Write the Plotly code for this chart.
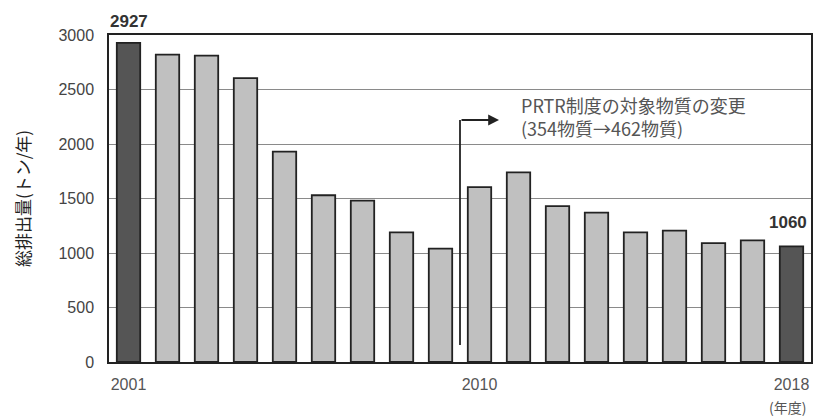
import plotly.graph_objects as go

years = list(range(2001, 2019))
emissions = [2927, 2820, 2810, 2605, 1930, 1530, 1480, 1190, 1040,
             1605, 1740, 1430, 1370, 1190, 1205, 1090, 1115, 1060]
highlight_years = [2001, 2018]
x_tick_vals = [2001, 2010, 2018]
x_tick_text = ["2001", "2010", "2018"]
y_tick_vals = [0, 500, 1000, 1500, 2000, 2500, 3000]

DARK = "#555555"
LIGHT = "#c0c0c0"
NUM_FONT = "Liberation Sans"
JP_FONT = "Noto Sans CJK JP"

colors = [DARK if y in highlight_years else LIGHT for y in years]

fig = go.Figure()
fig.add_trace(go.Bar(
    x=years, y=emissions,
    marker=dict(color=colors, line=dict(color="#222222", width=1.8)),
    width=0.6,
))

fig.update_layout(
    width=819, height=416,
    margin=dict(l=109, r=6, t=35, b=54),
    plot_bgcolor="white", paper_bgcolor="white",
    showlegend=False,
    font=dict(family=NUM_FONT, color="#444444", size=16),
)
fig.update_xaxes(
    range=[2000.5, 2018.5], tickvals=x_tick_vals, ticktext=x_tick_text,
    showgrid=False, showline=True, linecolor="#222222", linewidth=1.5,
    mirror=True, ticks="", ticklabelstandoff=7,
    tickfont=dict(family=NUM_FONT, size=16, color="#555555"),
)
fig.update_yaxes(
    range=[0, 3000], tickvals=y_tick_vals, showgrid=True,
    gridcolor="#8a8a8a", gridwidth=1.2, showline=True, linecolor="#222222",
    linewidth=1.5, mirror=True, ticks="", zeroline=False, ticklabelstandoff=10,
    tickfont=dict(family=NUM_FONT, size=16, color="#444444"),
    title=dict(text="総排出量(トン/年)", font=dict(family=JP_FONT, size=17, color="#222222"),
               standoff=24),
)

# value labels
fig.add_annotation(x=years[0], y=emissions[0], text="<b>2927</b>", showarrow=False,
                   yanchor="bottom", yshift=10, font=dict(family=NUM_FONT, size=17, color="#333333"))
fig.add_annotation(x=years[-1], y=emissions[-1], text="<b>1060</b>", showarrow=False,
                   yanchor="bottom", yshift=12, xshift=-4,
                   font=dict(family=NUM_FONT, size=17, color="#333333"))

# change marker arrow
change_x = 2009.5
arrow_y = 2220
fig.add_shape(type="line", x0=change_x, x1=change_x, y0=155, y1=arrow_y,
              line=dict(color="#222222", width=1.8))
fig.add_annotation(x=2010.5, y=arrow_y, ax=change_x, ay=arrow_y, axref="x", ayref="y",
                   showarrow=True, arrowhead=2, arrowsize=1.2, arrowwidth=1.8,
                   arrowcolor="#222222", text="")
fig.add_annotation(x=2010.5, y=arrow_y + 30, text="PRTR制度の対象物質の変更<br>(354物質→462物質)",
                   showarrow=False, xanchor="left", yanchor="middle", align="left",
                   xshift=20, font=dict(family=JP_FONT, size=18, color="#555555"))

fig.add_annotation(x=2018, y=0, text="(年度)", showarrow=False, yanchor="top",
                   yshift=-33, xshift=-4, font=dict(family=JP_FONT, size=14, color="#555555"))

fig.write_html("out.html")
